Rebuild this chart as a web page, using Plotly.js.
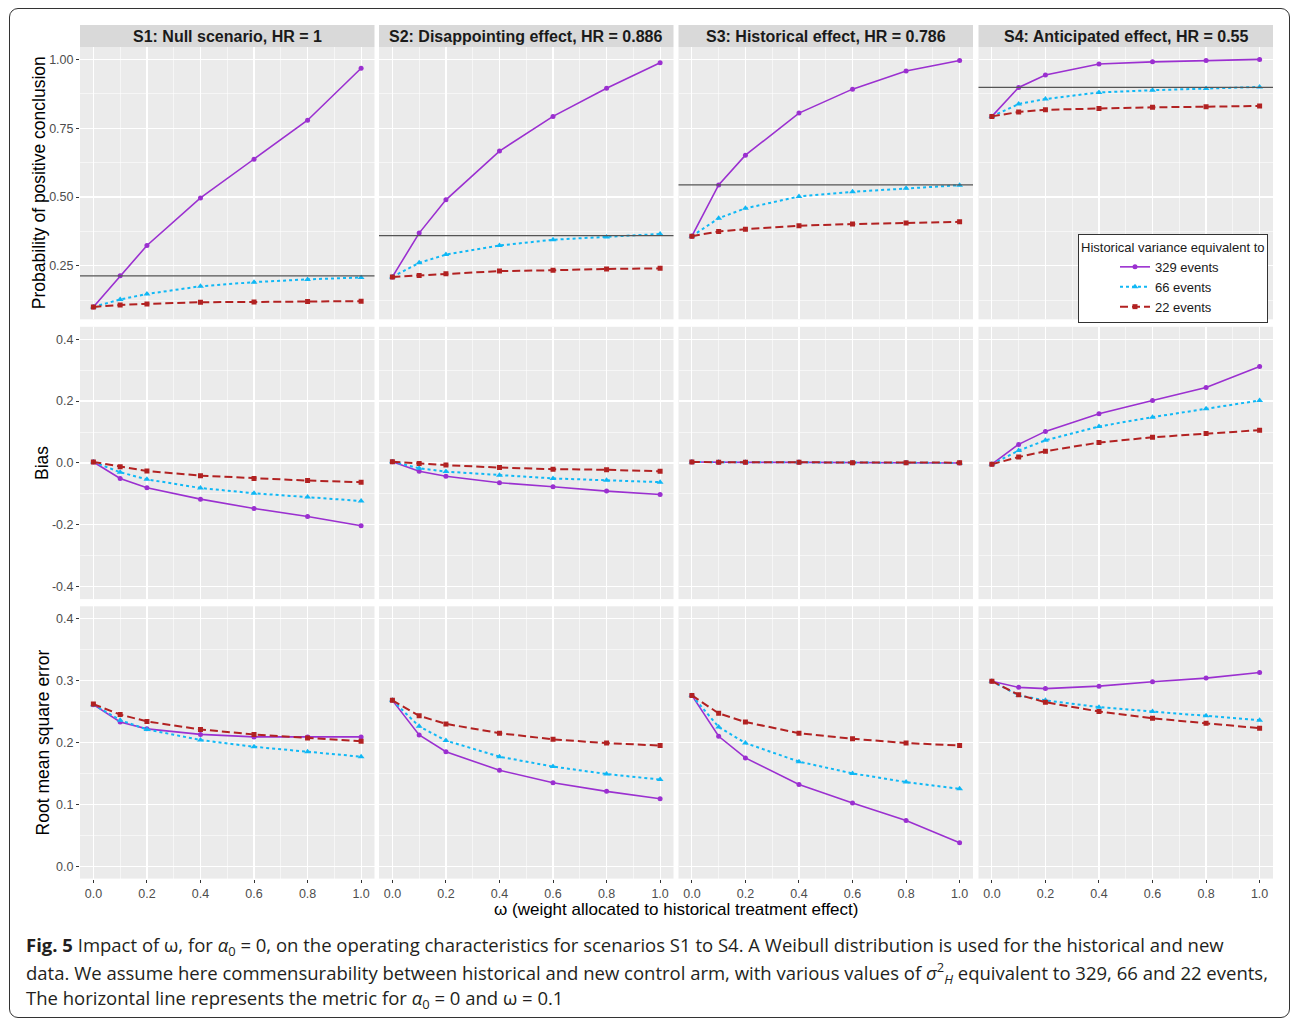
<!DOCTYPE html>
<html><head><meta charset="utf-8">
<script src="https://cdn.plot.ly/plotly-3.0.1.min.js"></script>
<style>
body{margin:0;background:#fff;}
#wrap{position:relative;width:1292px;height:1021px;}
#chart{width:1292px;height:1021px;}
#frame{position:absolute;left:9px;top:8px;width:1281px;height:1010px;border:1.5px solid #333;border-radius:9px;pointer-events:none;box-sizing:border-box;}
</style></head>
<body><div id="wrap"><div id="chart"></div><div id="frame"></div></div>
<script>
// ---------------- data ----------------
const omega = [0, 0.1, 0.2, 0.4, 0.6, 0.8, 1.0];
const scenarioTitles = ['S1: Null scenario, HR = 1', 'S2: Disappointing effect, HR = 0.886',
  'S3: Historical effect, HR = 0.786', 'S4: Anticipated effect, HR = 0.55'];
const seriesNames = ['329 events', '66 events', '22 events'];
const metricTitles = ['Probability of positive conclusion', 'Bias', 'Root mean square error'];
const xTitle = 'ω (weight allocated to historical treatment effect)';

// Probability of positive conclusion, one sub-array per scenario S1..S4
const prob329 = [
  [0.101, 0.214, 0.324, 0.497, 0.637, 0.779, 0.968],
  [0.210, 0.369, 0.490, 0.667, 0.793, 0.895, 0.988],
  [0.358, 0.544, 0.652, 0.805, 0.892, 0.958, 0.996],
  [0.793, 0.898, 0.943, 0.983, 0.991, 0.996, 1.000]];
const prob66 = [
  [0.101, 0.128, 0.148, 0.176, 0.191, 0.201, 0.208],
  [0.210, 0.261, 0.291, 0.324, 0.345, 0.355, 0.366],
  [0.358, 0.423, 0.459, 0.502, 0.519, 0.532, 0.543],
  [0.793, 0.838, 0.856, 0.880, 0.888, 0.894, 0.900]];
const prob22 = [
  [0.101, 0.108, 0.112, 0.118, 0.119, 0.121, 0.122],
  [0.210, 0.215, 0.221, 0.231, 0.234, 0.239, 0.241],
  [0.358, 0.375, 0.383, 0.396, 0.402, 0.406, 0.410],
  [0.793, 0.809, 0.817, 0.822, 0.826, 0.828, 0.831]];
// metric at alpha0 = 0 and omega = 0.1 (horizontal reference line)
const probRef = [0.214, 0.360, 0.544, 0.898];

// Bias
const bias329 = [
  [0.003, -0.050, -0.080, -0.117, -0.147, -0.173, -0.203],
  [0.004, -0.027, -0.043, -0.064, -0.077, -0.091, -0.102],
  [0.003, 0.002, 0.002, 0.002, 0.001, 0.001, 0.000],
  [-0.004, 0.060, 0.102, 0.159, 0.202, 0.244, 0.312]];
const bias66 = [
  [0.003, -0.030, -0.053, -0.081, -0.098, -0.110, -0.123],
  [0.004, -0.017, -0.028, -0.040, -0.050, -0.056, -0.062],
  [0.003, 0.002, 0.002, 0.002, 0.001, 0.001, 0.000],
  [-0.004, 0.040, 0.073, 0.118, 0.148, 0.175, 0.202]];
const bias22 = [
  [0.003, -0.012, -0.026, -0.041, -0.050, -0.057, -0.062],
  [0.004, -0.002, -0.007, -0.015, -0.020, -0.022, -0.027],
  [0.003, 0.002, 0.002, 0.002, 0.001, 0.001, 0.001],
  [-0.004, 0.019, 0.038, 0.066, 0.083, 0.095, 0.106]];

// Root mean square error
const rmse329 = [
  [0.261, 0.233, 0.222, 0.213, 0.209, 0.209, 0.209],
  [0.268, 0.212, 0.185, 0.155, 0.135, 0.121, 0.109],
  [0.276, 0.210, 0.175, 0.132, 0.102, 0.074, 0.038],
  [0.299, 0.289, 0.287, 0.291, 0.298, 0.304, 0.313]];
const rmse66 = [
  [0.261, 0.236, 0.221, 0.204, 0.193, 0.185, 0.177],
  [0.268, 0.226, 0.203, 0.177, 0.161, 0.149, 0.140],
  [0.276, 0.225, 0.199, 0.169, 0.150, 0.136, 0.125],
  [0.299, 0.276, 0.268, 0.257, 0.250, 0.243, 0.236]];
const rmse22 = [
  [0.262, 0.245, 0.234, 0.221, 0.213, 0.207, 0.202],
  [0.268, 0.243, 0.230, 0.215, 0.205, 0.199, 0.195],
  [0.276, 0.247, 0.233, 0.215, 0.206, 0.199, 0.195],
  [0.299, 0.277, 0.265, 0.250, 0.239, 0.231, 0.223]];

const xTickVals = [0, 0.2, 0.4, 0.6, 0.8, 1.0];
const xTickText = ['0.0', '0.2', '0.4', '0.6', '0.8', '1.0'];
const probTickVals = [0.25, 0.5, 0.75, 1.0];
const probTickText = ['0.25', '0.50', '0.75', '1.00'];
const biasTickVals = [-0.4, -0.2, 0, 0.2, 0.4];
const biasTickText = ['-0.4', '-0.2', '0.0', '0.2', '0.4'];
const rmseTickVals = [0, 0.1, 0.2, 0.3, 0.4];
const rmseTickText = ['0.0', '0.1', '0.2', '0.3', '0.4'];

// ---------------- layout geometry ----------------
const W = 1292, H = 1021;
const colStart = [80, 379, 678.5, 978.5];
const panelW = 294.5;
const rowTop = [47, 326.8, 606.3];
const panelH = 272.3;
const stripTop = 25;

const metrics = [
  {series: [prob329, prob66, prob22], range: [0.056, 1.045], tv: probTickVals, tt: probTickText, minor: 0.125},
  {series: [bias329, bias66, bias22], range: [-0.44, 0.44], tv: biasTickVals, tt: biasTickText, minor: 0.1},
  {series: [rmse329, rmse66, rmse22], range: [-0.02, 0.42], tv: rmseTickVals, tt: rmseTickText, minor: 0.05}
];
const styles = [
  {color: '#9B30D0', dash: 'solid', symbol: 'circle', size: 5},
  {color: '#10B8F5', dash: '3px,3px', symbol: 'triangle-up', size: 6},
  {color: '#B22222', dash: '8px,4px', symbol: 'square', size: 5}
];

const px = v => v / W;
const py = v => 1 - v / H;

const layout = {
  width: W, height: H,
  margin: {l: 0, r: 0, t: 0, b: 0},
  paper_bgcolor: '#ffffff',
  plot_bgcolor: '#EBEBEB',
  font: {family: 'Liberation Sans, Arial, sans-serif', color: '#000'},
  showlegend: true,
  legend: {
    x: px(1078), y: py(234), xanchor: 'left', yanchor: 'top',
    bgcolor: '#ffffff', bordercolor: '#333', borderwidth: 1,
    font: {size: 13, color: '#1a1a1a'},
    title: {text: 'Historical variance equivalent to', font: {size: 13, color: '#1a1a1a'}},
    indentation: 36, tracegroupgap: 0, itemwidth: 30
  },
  shapes: [], annotations: []
};
const traces = [];

for (let r = 0; r < 3; r++) {
  for (let c = 0; c < 4; c++) {
    const k = r * 4 + c + 1;
    const xa = 'xaxis' + (k > 1 ? k : '');
    const ya = 'yaxis' + (k > 1 ? k : '');
    const xr = 'x' + (k > 1 ? k : '');
    const yr = 'y' + (k > 1 ? k : '');
    const m = metrics[r];
    layout[xa] = {
      domain: [px(colStart[c]), px(colStart[c] + panelW)],
      anchor: yr, range: [-0.05, 1.05],
      tickmode: 'array', tickvals: xTickVals, ticktext: xTickText,
      showticklabels: r === 2, ticks: r === 2 ? 'outside' : '', ticklen: 3, tickwidth: 1, tickcolor: '#333',
      tickfont: {size: 12.5, color: '#4D4D4D'},
      showgrid: true, gridcolor: '#ffffff', gridwidth: 1.2,
      minor: {tickmode: 'linear', tick0: 0.1, dtick: 0.2, showgrid: true, gridcolor: '#ffffff', gridwidth: 0.55, ticks: ''},
      zeroline: false, showline: false, fixedrange: true
    };
    layout[ya] = {
      domain: [py(rowTop[r] + panelH), py(rowTop[r])],
      anchor: xr, range: m.range,
      tickmode: 'array', tickvals: m.tv, ticktext: m.tt,
      showticklabels: c === 0, ticks: c === 0 ? 'outside' : '', ticklen: 3, tickwidth: 1, tickcolor: '#333',
      tickfont: {size: 12.5, color: '#4D4D4D'},
      showgrid: true, gridcolor: '#ffffff', gridwidth: 1.2,
      minor: {tickmode: 'linear', tick0: m.tv[0] - m.minor, dtick: m.minor * 2, showgrid: true, gridcolor: '#ffffff', gridwidth: 0.55, ticks: ''},
      zeroline: false, showline: false, fixedrange: true
    };
    for (let s = 0; s < 3; s++) {
      const st = styles[s];
      traces.push({
        type: 'scatter', mode: 'lines+markers',
        x: omega, y: m.series[s][c],
        xaxis: xr, yaxis: yr,
        name: seriesNames[s], legendgroup: seriesNames[s],
        showlegend: (r === 0 && c === 0),
        line: {color: st.color, dash: st.dash, width: s === 0 ? 1.6 : 2},
        marker: {color: st.color, symbol: st.symbol, size: st.size},
        hoverinfo: 'x+y+name'
      });
    }
    if (r === 0) {
      layout.shapes.push({
        type: 'line', xref: xr + ' domain', x0: 0, x1: 1, yref: yr, y0: probRef[c], y1: probRef[c],
        line: {color: '#555555', width: 1.3}, layer: 'above'
      });
    }
  }
}

// strips
for (let c = 0; c < 4; c++) {
  layout.shapes.push({
    type: 'rect', xref: 'paper', yref: 'paper',
    x0: px(colStart[c]), x1: px(colStart[c] + panelW), y0: py(rowTop[0]), y1: py(stripTop),
    fillcolor: '#D9D9D9', line: {width: 0}, layer: 'below'
  });
  layout.annotations.push({
    xref: 'paper', yref: 'paper', x: px(colStart[c] + panelW / 2), y: py((stripTop + rowTop[0]) / 2),
    xanchor: 'center', yanchor: 'middle', showarrow: false,
    text: '<b>' + scenarioTitles[c] + '</b>', font: {size: 16, color: '#1A1A1A'}
  });
}
// y titles
const yTitleX = [39, 42, 43];
for (let r = 0; r < 3; r++) {
  layout.annotations.push({
    xref: 'paper', yref: 'paper', x: px(yTitleX[r]), y: py(rowTop[r] + panelH / 2),
    xanchor: 'center', yanchor: 'middle', showarrow: false, textangle: -90,
    text: metricTitles[r], font: {size: 17.5, color: '#000'}
  });
}
// x title
layout.annotations.push({
  xref: 'paper', yref: 'paper', x: px(676), y: py(909),
  xanchor: 'center', yanchor: 'middle', showarrow: false,
  text: xTitle, font: {size: 17, color: '#000'}
});
// caption
const captionLines = [
  '<b>Fig. 5</b> Impact of ω, for <i>α</i><sub>0</sub> = 0, on the operating characteristics for scenarios S1 to S4. A Weibull distribution is used for the historical and new',
  'data. We assume here commensurability between historical and new control arm, with various values of <i>σ</i><sup>2</sup><sub><i>H</i></sub> equivalent to 329, 66 and 22 events,',
  'The horizontal line represents the metric for <i>α</i><sub>0</sub> = 0 and ω = 0.1'
];
const captionY = [946, 972.7, 999];
for (let i = 0; i < 3; i++) {
  layout.annotations.push({
    xref: 'paper', yref: 'paper', x: px(24), y: py(captionY[i]),
    xanchor: 'left', yanchor: 'middle', showarrow: false, align: 'left',
    text: captionLines[i], font: {family: 'Open Sans, Noto Sans, sans-serif', size: 18.5, color: '#231F20'}
  });
}

Plotly.newPlot('chart', traces, layout, {displayModeBar: false, staticPlot: true});
</script>
</body></html>
